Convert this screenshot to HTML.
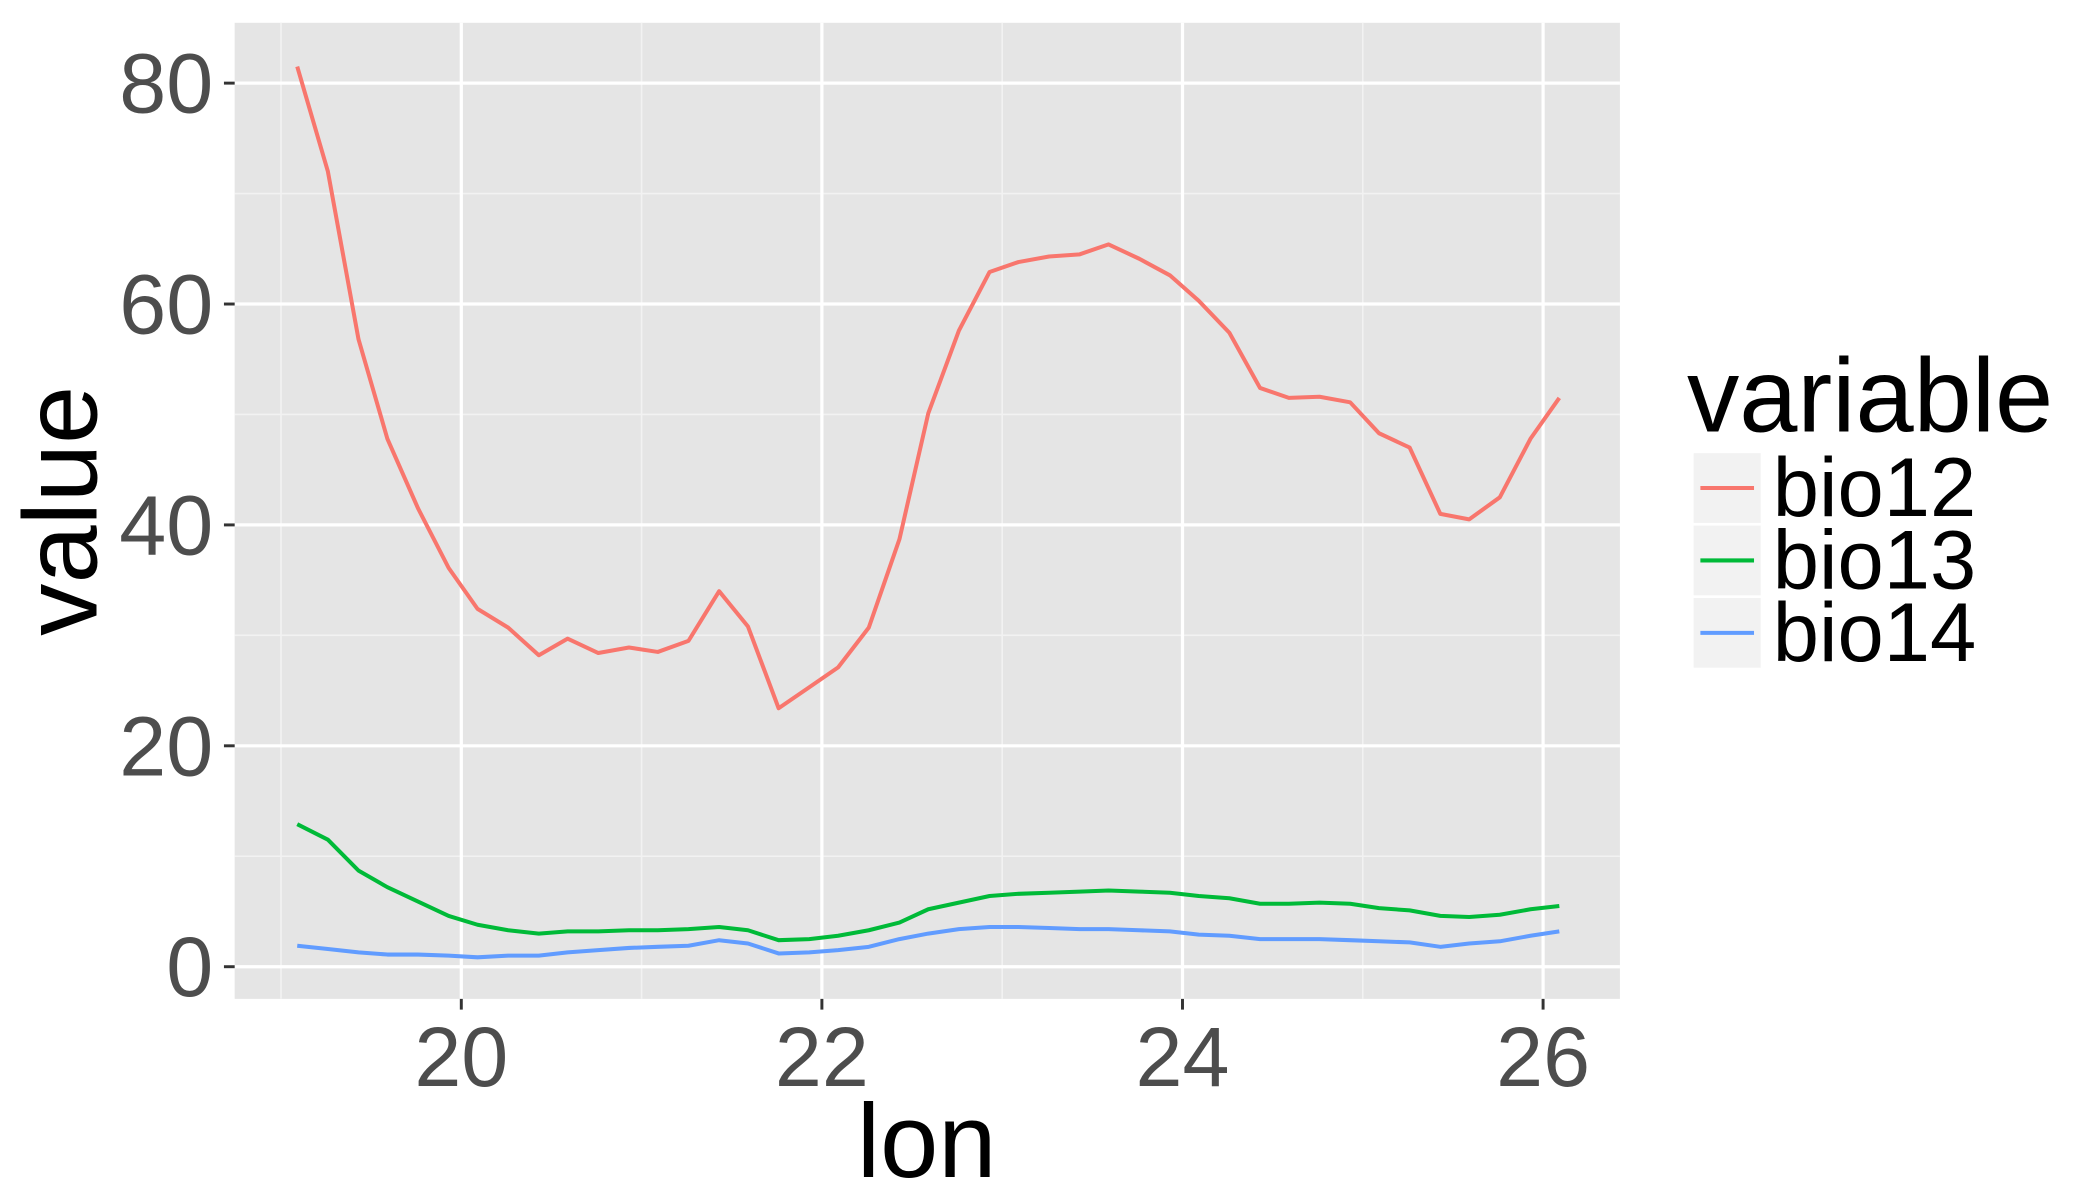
<!DOCTYPE html>
<html><head><meta charset="utf-8"><style>
html,body{margin:0;padding:0;background:#fff;}
svg{display:block;font-family:"Liberation Sans",sans-serif;}
</style></head><body>
<svg id="chart" width="2100" height="1200" viewBox="0 0 1566 895" preserveAspectRatio="none" xmlns="http://www.w3.org/2000/svg">
<rect x="175" y="17" width="1033" height="728" fill="#e5e5e5"/>
<g id="grid"></g>
<g id="series"></g>
<g id="axes"></g>
<text x="691" y="878" font-size="78" text-anchor="middle" fill="#000">lon</text>
<text transform="translate(72,381) rotate(-90)" font-size="78" text-anchor="middle" fill="#000">value</text>
<g>
<text x="1258" y="322" font-size="78" fill="#000">variable</text>
<rect x="1263" y="338" width="50" height="52" fill="#f2f2f2"/>
<rect x="1263" y="392" width="50" height="52" fill="#f2f2f2"/>
<rect x="1263" y="446" width="50" height="52" fill="#f2f2f2"/>
<line x1="1268" x2="1308" y1="364" y2="364" stroke="#F8766D" stroke-width="3"/>
<line x1="1268" x2="1308" y1="418" y2="418" stroke="#00BA38" stroke-width="3"/>
<line x1="1268" x2="1308" y1="472" y2="472" stroke="#619CFF" stroke-width="3"/>
<text x="1322" y="385" font-size="62" fill="#000">bio12</text>
<text x="1322" y="439" font-size="62" fill="#000">bio13</text>
<text x="1322" y="493" font-size="62" fill="#000">bio14</text>
</g>
</svg>
<script>
const lon = [19.09,19.26,19.43,19.59,19.76,19.93,20.09,20.26,20.43,20.59,20.76,20.93,21.09,21.26,21.43,21.59,21.76,21.93,22.09,22.26,22.43,22.59,22.76,22.93,23.09,23.26,23.43,23.59,23.76,23.93,24.09,24.26,24.43,24.59,24.76,24.93,25.09,25.26,25.43,25.59,25.76,25.93,26.09];
const bio12 = [81.5,72.0,56.8,47.8,41.5,36.1,32.4,30.7,28.2,29.7,28.4,28.9,28.5,29.5,34.0,30.8,23.4,25.3,27.1,30.7,38.7,50.1,57.6,62.9,63.8,64.3,64.5,65.4,64.1,62.6,60.3,57.4,52.4,51.5,51.6,51.1,48.3,47.0,41.0,40.5,42.5,47.8,51.5];
const bio13 = [12.9,11.5,8.7,7.2,5.9,4.6,3.8,3.3,3.0,3.2,3.2,3.3,3.3,3.4,3.6,3.3,2.4,2.5,2.8,3.3,4.0,5.2,5.8,6.4,6.6,6.7,6.8,6.9,6.8,6.7,6.4,6.2,5.7,5.7,5.8,5.7,5.3,5.1,4.6,4.5,4.7,5.2,5.5];
const bio14 = [1.9,1.6,1.3,1.1,1.1,1.0,0.85,1.0,1.0,1.3,1.5,1.7,1.8,1.9,2.4,2.1,1.2,1.3,1.5,1.8,2.5,3.0,3.4,3.6,3.6,3.5,3.4,3.4,3.3,3.2,2.9,2.8,2.5,2.5,2.5,2.4,2.3,2.2,1.8,2.1,2.3,2.8,3.2];
const xTicks = [20,22,24,26];
const xMinor = [19,21,23,25];
const yTicks = [0,20,40,60,80];
const yMinor = [10,30,50,70];

const NS = "http://www.w3.org/2000/svg";
const PL = 175, PR = 1208, PT = 17, PB = 745;
function xs(v){ return 344 + (v - 20) * 134.45; }
function ys(v){ return 721 - v * 8.2375; }
function mk(tag, attrs, parent){
  const e = document.createElementNS(NS, tag);
  for (const k in attrs) e.setAttribute(k, attrs[k]);
  parent.appendChild(e);
  return e;
}
const grid = document.getElementById('grid');
const axes = document.getElementById('axes');
const series = document.getElementById('series');

xMinor.forEach(v => {
  const l = mk('line', {x1: xs(v), x2: xs(v), y1: PT, y2: PB, stroke: '#f2f2f2', 'stroke-width': 1.2}, grid);
  
  
});
yMinor.forEach(v => {
  const l = mk('line', {x1: PL, x2: PR, y1: ys(v), y2: ys(v), stroke: '#f2f2f2', 'stroke-width': 1.2}, grid);
  
  
});
xTicks.forEach(v => {
  const l = mk('line', {x1: xs(v), x2: xs(v), y1: PT, y2: PB, stroke: '#fff', 'stroke-width': 2.4}, grid);
  
  
  const t = mk('line', {x1: xs(v), x2: xs(v), y1: PB, y2: PB + 8, stroke: '#333', 'stroke-width': 2.2}, axes);
  
  
  const tx = mk('text', {x: xs(v), y: 810, 'font-size': 63, 'text-anchor': 'middle', fill: '#4d4d4d'}, axes);
  tx.textContent = v;
  
  
});
yTicks.forEach(v => {
  const l = mk('line', {x1: PL, x2: PR, y1: ys(v), y2: ys(v), stroke: '#fff', 'stroke-width': 2.4}, grid);
  
  
  const t = mk('line', {x1: PL - 8, x2: PL, y1: ys(v), y2: ys(v), stroke: '#333', 'stroke-width': 2.2}, axes);
  
  
  const tx = mk('text', {x: 159, y: ys(v) + 22, 'font-size': 63, 'text-anchor': 'end', fill: '#4d4d4d'}, axes);
  tx.textContent = v;
  
  
});
function drawLine(vals, color, name){
  const d = vals.map((v, i) => (i ? 'L' : 'M') + xs(lon[i]).toFixed(2) + ',' + ys(v).toFixed(2)).join(' ');
  const p = mk('path', {d: d, fill: 'none', stroke: color, 'stroke-width': 3, 'stroke-linejoin': 'round'}, series);
  
  
}
drawLine(bio12, '#F8766D', 'line-bio12');
drawLine(bio13, '#00BA38', 'line-bio13');
drawLine(bio14, '#619CFF', 'line-bio14');
</script>
</body></html>
